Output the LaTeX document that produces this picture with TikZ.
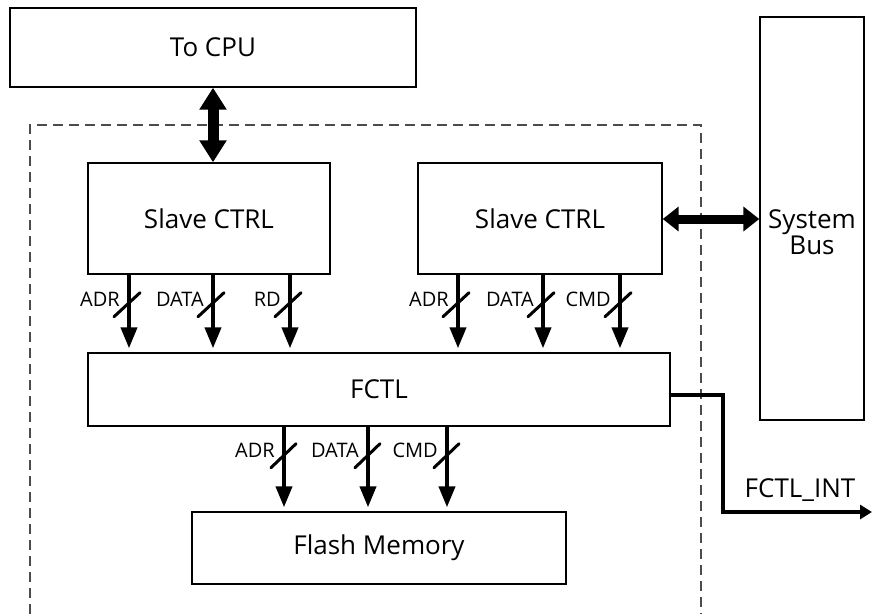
\documentclass[tikz,border=0pt]{standalone}
\usepackage{fontspec}
\setmainfont{Open Sans}
\usetikzlibrary{arrows.meta}
\begin{document}
\begin{tikzpicture}[x=1pt,y=-1pt,
  blk/.style={draw=black,line width=1.4pt,inner sep=0pt,fill=white},
  big/.style={font=\fontsize{26}{30}\selectfont},
  small/.style={font=\fontsize{20}{22}\selectfont,inner sep=0pt},
  bus/.style={line width=4pt,-{Triangle[length=21pt,width=16pt]},shorten >=4pt},
  dbl/.style={line width=11pt,{Triangle[length=22pt,width=26pt]}-{Triangle[length=22pt,width=26pt]}},
  dblh/.style={line width=9pt,{Triangle[length=16pt,width=24pt]}-{Triangle[length=16pt,width=24pt]}},
  slash/.style={line width=3pt,line cap=round},
  sig/.style={line width=4pt,-{Triangle[length=12pt,width=14pt]}},
  frame/.style={draw=black!70,line width=1.5pt,dash pattern=on 10pt off 6pt}
]
\useasboundingbox (0,0) rectangle (872,614);
\fill[white] (0,0) rectangle (872,614);
% dashed enclosure
\draw[frame] (30,614) -- (30,125) -- (701,125) -- (701,614);
% blocks
\node[blk,big,minimum width=406pt,minimum height=79pt] (cpu) at (213,47.5) {To CPU};
\node[blk,big,minimum width=242pt,minimum height=111pt] (s1) at (209,218.5) {Slave CTRL};
\node[blk,big,minimum width=244pt,minimum height=111pt] (s2) at (540,218.5) {Slave CTRL};
\node[blk,minimum width=104pt,minimum height=403pt] (sb) at (812,218.5) {};
\node[big,align=center,inner sep=0pt] (sbt) at (812,232) {System\\[-4pt]Bus};
\node[blk,big,minimum width=582pt,minimum height=73pt] (fctl) at (379,389.5) {FCTL};
\node[blk,big,minimum width=374pt,minimum height=72pt] (fm) at (379,548) {Flash Memory};
% thick double arrows
\draw[dbl] (cpu.south) -- (cpu.south |- s1.north);
\draw[dblh] ([yshift=-0.5pt]s2.east) -- ([yshift=-0.5pt]s2.east -| sb.west);
% slave 1 buses
\foreach \dx/\lab in {-80/ADR,4/DATA,81/RD}{
  \draw[bus] ([xshift=\dx pt]s1.south) -- ([xshift=\dx pt]s1.south |- fctl.north);
  \draw[slash] ([xshift=\dx pt-15pt,yshift=-42pt]s1.south) -- ([xshift=\dx pt+11pt,yshift=-18pt]s1.south);
  \node[small,anchor=base east] at ([xshift=\dx pt-9pt,yshift=-32pt]s1.south) {\lab};
}
% slave 2 buses
\foreach \dx/\lab in {-82/ADR,3/DATA,80/CMD}{
  \draw[bus] ([xshift=\dx pt]s2.south) -- ([xshift=\dx pt]s2.south |- fctl.north);
  \draw[slash] ([xshift=\dx pt-15pt,yshift=-42pt]s2.south) -- ([xshift=\dx pt+11pt,yshift=-18pt]s2.south);
  \node[small,anchor=base east] at ([xshift=\dx pt-9pt,yshift=-32pt]s2.south) {\lab};
}
% FCTL to flash buses
\foreach \dx/\lab in {-95/ADR,-11/DATA,68/CMD}{
  \draw[bus] ([xshift=\dx pt]fctl.south) -- ([xshift=\dx pt]fctl.south |- fm.north);
  \draw[slash] ([xshift=\dx pt-13pt,yshift=-41pt]fctl.south) -- ([xshift=\dx pt+12pt,yshift=-17pt]fctl.south);
  \node[small,anchor=base east] at ([xshift=\dx pt-9pt,yshift=-31pt]fctl.south) {\lab};
}
% interrupt
\coordinate (intbend) at (723,512);
\coordinate (intend) at (872,512);
\draw[sig] ([xshift=-2pt,yshift=-5.5pt]fctl.east) -| (intbend) -- (intend);
\node[font=\fontsize{26}{30}\selectfont,anchor=base,inner sep=0pt] (intl) at (800,497) {FCTL\_INT};
\end{tikzpicture}
\end{document}
